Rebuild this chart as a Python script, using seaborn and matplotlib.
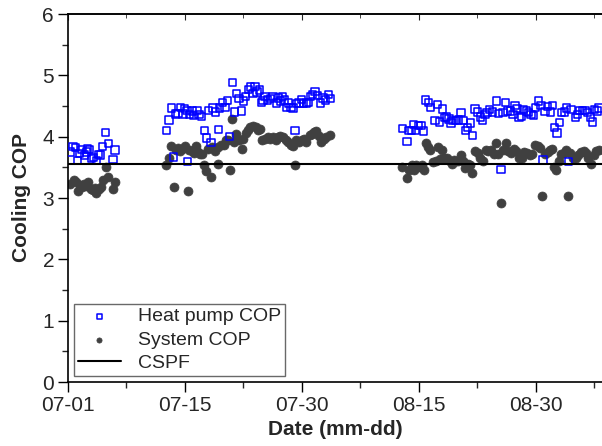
import matplotlib
matplotlib.use('Agg')
import numpy as np
import pandas as pd
import matplotlib.pyplot as plt
from matplotlib.ticker import MultipleLocator
import seaborn as sns

# days counted from 07-01
hp_day = [0.30, 0.64, 0.98, 1.24, 1.50, 1.75, 2.09, 2.35, 2.52, 2.78, 3.03, 3.29, 3.63, 3.89, 4.15,
          4.40, 4.83, 5.17, 5.77, 6.03,
          12.61, 12.95, 13.25, 13.55, 13.80, 14.10, 14.40, 14.74, 14.96, 15.26, 15.34, 15.60, 15.94,
          16.11, 16.54, 16.79, 17.14, 17.48, 17.74, 17.99, 18.33, 18.59, 18.93, 19.27, 19.44, 19.79,
          20.13, 20.47, 20.73, 21.07, 21.32, 21.58, 21.92, 22.26, 22.52, 22.78, 23.12, 23.38, 23.72,
          23.97, 24.23, 24.57, 24.83, 25.00, 25.26, 25.60, 25.94, 26.28, 26.71, 26.97, 27.22, 27.48,
          27.74, 27.99, 28.25, 28.59, 28.85, 29.10, 29.27, 29.62, 29.96, 30.21, 30.56, 30.81, 31.07,
          31.32, 31.67, 32.01, 32.35, 32.69, 33.03, 33.38, 33.63,
          42.86, 43.46, 43.72, 44.06, 44.32, 44.57, 44.91, 45.26, 45.60, 45.85, 46.20, 46.45, 47.05,
          47.39, 47.65, 47.99, 48.25, 48.50, 48.85, 49.10, 49.36, 49.70, 50.04, 50.38, 50.73, 50.98,
          51.24, 51.58, 51.84, 52.18, 52.52, 52.86, 53.12, 53.46, 53.72, 54.06, 54.40, 54.91, 55.17,
          55.51, 55.77, 56.11, 56.37, 56.71, 57.05, 57.31, 57.56, 57.82, 58.16, 58.42, 58.76, 59.02,
          59.36, 59.70, 59.96, 60.30, 60.64, 60.90, 61.15, 61.50, 61.84, 62.09, 62.35, 62.69, 63.03,
          63.29, 63.63, 63.89, 64.14, 64.49, 65.09, 65.34, 65.60, 65.94, 66.28, 66.62, 66.97, 67.22,
          67.48, 67.82, 68.08]
hp_cop = [3.75, 3.84, 3.82, 3.61, 3.73, 3.79, 3.70, 3.75, 3.80, 3.79, 3.64, 3.66, 3.61, 3.71, 3.70,
          3.84, 4.07, 3.89, 3.63, 3.78,
          4.10, 4.27, 4.47, 3.67, 4.37, 4.38, 4.48, 4.37, 4.46, 4.43, 3.60, 4.36, 4.42,
          4.35, 4.43, 4.36, 4.33, 4.10, 3.98, 4.43, 3.90, 4.47, 4.40, 4.12, 4.47, 4.56,
          4.48, 4.59, 4.00, 4.88, 4.40, 4.70, 4.62, 4.42, 4.58, 4.65, 4.77, 4.81, 4.70,
          4.82, 4.73, 4.76, 4.56, 4.59, 4.66, 4.60, 4.62, 4.65, 4.55, 4.63, 4.58, 4.65,
          4.60, 4.48, 4.55, 4.48, 4.47, 4.10, 4.54, 4.55, 4.61, 4.54, 4.55, 4.56, 4.65,
          4.69, 4.74, 4.67, 4.55, 4.63, 4.60, 4.69, 4.62,
          4.13, 3.92, 4.10, 4.10, 4.20, 4.10, 4.18, 4.18, 4.09, 4.60, 4.56, 4.48, 4.26,
          4.52, 4.24, 4.45, 4.31, 4.32, 4.29, 4.22, 4.26, 4.26, 4.27, 4.39, 4.26, 4.10,
          4.15, 4.22, 4.02, 4.45, 4.40, 4.32, 4.26, 4.36, 4.39, 4.44, 4.40, 4.58, 4.38,
          3.46, 4.39, 4.56, 4.42, 4.42, 4.36, 4.51, 4.46, 4.31, 4.33, 4.44, 4.42, 4.39,
          4.36, 4.35, 4.48, 4.58, 4.51, 3.62, 4.41, 4.49, 4.40, 4.51, 4.15, 4.06, 4.23,
          4.39, 4.40, 4.47, 3.60, 4.44, 4.31, 4.36, 4.43, 4.43, 4.43, 4.39, 4.32, 4.24,
          4.44, 4.42, 4.47]

sys_day = [0.30, 0.73, 1.07, 1.24, 1.58, 1.84, 2.09, 2.35, 2.61, 2.95, 3.21, 3.46, 3.63, 3.97, 4.23,
           4.49, 4.83, 5.09, 5.77, 6.03,
           12.61, 12.95, 13.25, 13.55, 13.80, 14.10, 14.40, 14.66, 15.00, 15.34, 15.51, 15.85, 16.20,
           16.45, 16.62, 16.88, 17.22, 17.48, 17.74, 17.99, 18.33, 18.42, 18.85, 19.19, 19.27, 19.62,
           19.96, 20.30, 20.56, 20.73, 21.07, 21.24, 21.58, 21.92, 22.26, 22.44, 22.78, 23.12, 23.38,
           23.72, 24.06, 24.32, 24.66, 24.91, 25.26, 25.60, 25.94, 26.28, 26.62, 26.88, 27.22, 27.56,
           27.91, 28.25, 28.59, 28.85, 29.10, 29.27, 29.62, 29.96, 30.21, 30.56, 30.98, 31.24, 31.50,
           31.84, 32.18, 32.44, 32.78, 33.12, 33.55,
           42.86, 43.46, 43.72, 44.06, 44.40, 44.66, 45.00, 45.34, 45.60, 45.85, 46.20, 46.45, 46.79,
           47.14, 47.39, 47.65, 47.99, 48.25, 48.59, 48.93, 49.19, 49.44, 49.79, 50.04, 50.38, 50.64,
           50.90, 51.24, 51.50, 51.84, 52.18, 52.52, 52.86, 53.21, 53.55, 53.89, 54.23, 54.57, 54.91,
           55.17, 55.51, 55.77, 56.11, 56.45, 56.79, 57.14, 57.48, 57.82, 58.16, 58.50, 58.85, 59.19,
           59.53, 59.87, 60.21, 60.56, 60.81, 61.15, 61.50, 61.84, 62.09, 62.35, 62.61, 62.95, 63.21,
           63.55, 63.89, 64.14, 64.40, 64.74, 65.09, 65.43, 65.77, 66.11, 66.45, 66.71, 67.05, 67.39,
           67.74, 68.08]
sys_cop = [3.23, 3.30, 3.26, 3.11, 3.21, 3.18, 3.23, 3.19, 3.26, 3.14, 3.13, 3.17, 3.08, 3.15, 3.18,
           3.30, 3.51, 3.34, 3.14, 3.26,
           3.54, 3.66, 3.84, 3.18, 3.78, 3.82, 3.77, 3.80, 3.84, 3.11, 3.78, 3.77, 3.73,
           3.84, 3.75, 3.72, 3.72, 3.53, 3.44, 3.80, 3.34, 3.83, 3.77, 3.55, 3.83, 3.87,
           3.86, 3.94, 3.95, 3.45, 4.28, 3.91, 4.05, 3.95, 3.80, 3.97, 4.06, 4.11, 4.15,
           4.17, 4.15, 4.11, 4.13, 3.94, 3.97, 4.00, 3.97, 4.00, 3.94, 4.00, 4.01, 4.00,
           3.94, 3.91, 3.86, 3.84, 3.53, 3.94, 3.91, 3.94, 3.97, 3.91, 4.02, 4.05, 4.08,
           4.10, 4.01, 3.91, 3.97, 4.00, 4.02,
           3.51, 3.32, 3.46, 3.53, 3.46, 3.53, 3.51, 3.53, 3.46, 3.90, 3.83, 3.78, 3.58,
           3.61, 3.83, 3.63, 3.78, 3.66, 3.65, 3.61, 3.56, 3.62, 3.60, 3.61, 3.70, 3.60,
           3.49, 3.56, 3.53, 3.40, 3.77, 3.73, 3.66, 3.61, 3.78, 3.77, 3.79, 3.72, 3.89,
           3.71, 2.92, 3.78, 3.90, 3.77, 3.73, 3.80, 3.77, 3.65, 3.66, 3.75, 3.73, 3.70,
           3.72, 3.86, 3.84, 3.82, 3.03, 3.72, 3.75, 3.79, 3.80, 3.51, 3.45, 3.60, 3.72,
           3.73, 3.78, 3.04, 3.73, 3.66, 3.65, 3.70, 3.75, 3.77, 3.73, 3.66, 3.56, 3.70,
           3.77, 3.79]

cspf = 3.55
tick_pos = [0, 15, 30, 45, 60]
tick_labels = ["07-01", "07-15", "07-30", "08-15", "08-30"]

hp = pd.DataFrame({"day": hp_day, "cop": hp_cop})
sy = pd.DataFrame({"day": sys_day, "cop": sys_cop})

sns.set_style("white")
plt.rcParams['font.family'] = ['Liberation Sans', 'DejaVu Sans']

fig = plt.figure(figsize=(6.02, 4.46), dpi=100)
ax = fig.add_axes([68 / 602, 1 - 382 / 446, 535 / 602, 368 / 446])

sns.scatterplot(data=hp, x="day", y="cop", ax=ax, marker="s", s=28,
                facecolor="none", edgecolor="#0000ff", linewidth=1.1,
                label="Heat pump COP", zorder=3)
sns.scatterplot(data=sy, x="day", y="cop", ax=ax, marker="o", s=42,
                color="#404040", edgecolor="#404040", linewidth=0.5,
                label="System COP", zorder=2)
ax.axhline(cspf, color="black", lw=1.5, label="CSPF", zorder=4)

ax.set_xlim(0, 68.6)
ax.set_ylim(0, 6)
ax.set_xticks(tick_pos)
ax.set_xticklabels(tick_labels)
ax.xaxis.set_minor_locator(MultipleLocator(7.5))
ax.yaxis.set_major_locator(MultipleLocator(1))
ax.yaxis.set_minor_locator(MultipleLocator(0.5))
ax.tick_params(axis="both", which="major", direction="out", length=7, width=1,
               labelsize=15, color="black", left=True, bottom=True, pad=3)
ax.tick_params(axis="both", which="minor", direction="out", length=4, width=1,
               left=True, bottom=True)

for side in ["left", "bottom", "top"]:
    ax.spines[side].set_linewidth(1.2)
    ax.spines[side].set_color("black")
ax.spines["right"].set_visible(False)

top = ax.secondary_xaxis("top")
top.set_xticks(tick_pos)
top.xaxis.set_minor_locator(MultipleLocator(7.5))
top.tick_params(which="major", direction="in", length=4, labeltop=False)
top.tick_params(which="minor", direction="in", length=3)
top.spines["top"].set_linewidth(1.2)

ax.set_xlabel("Date (mm-dd)", fontsize=15, fontweight="bold", labelpad=4)
ax.set_ylabel("Cooling COP", fontsize=15, fontweight="bold", labelpad=8)

leg = ax.legend(loc="lower left", fontsize=14, frameon=True, fancybox=False,
                edgecolor="#444444", handlelength=2.2, handletextpad=0.9,
                borderpad=0.2, labelspacing=0.3, borderaxespad=0.3)
leg.get_frame().set_linewidth(1.0)
for h in leg.legend_handles[:2]:
    h.set_sizes([14])

fig.savefig("out.png", dpi=100)
